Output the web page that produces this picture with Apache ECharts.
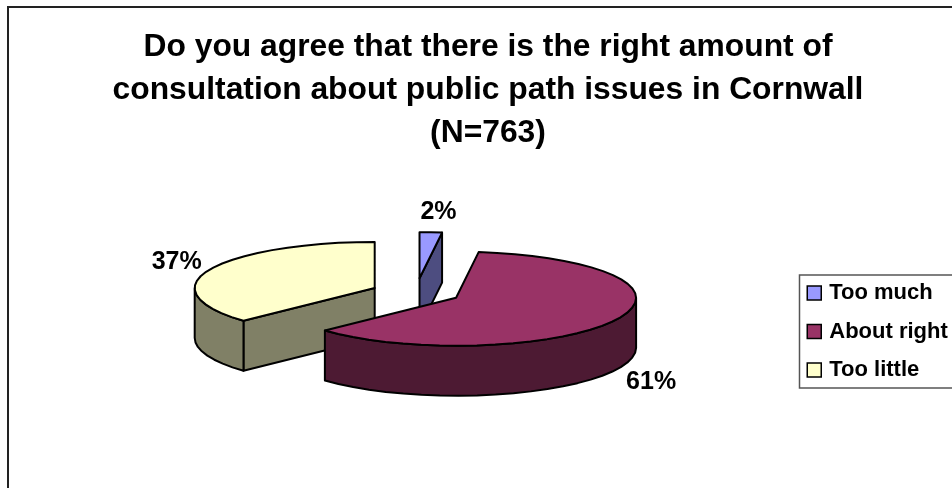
<!DOCTYPE html>
<html>
<head>
<meta charset="utf-8">
<script src="https://cdn.jsdelivr.net/npm/echarts@6/dist/echarts.min.js"></script>
<style>
  html, body { margin: 0; padding: 0; background: #fff; }
  #chart { width: 952px; height: 488px; }
</style>
</head>
<body>
<div id="chart"></div>
<script>
// Survey answers, in percent of respondents
const categories = ['Too much', 'About right', 'Too little'];
const shares = [2, 61, 37];
const topColors = ['#9999FF', '#993366', '#FFFFCC'];
const sideColors = ['#4D4D80', '#4D1A33', '#808066'];
const titleLines = [
  'Do you agree that there is the right amount of',
  'consultation about public path issues in Cornwall',
  '(N=763)'
];

// Geometry of the tilted, exploded pie
const FONT = '"Liberation Sans", Arial, sans-serif';
const pie = { cx: 416, cy: 292.5, rx: 180, ryBack: 46, ryFront: 48, depth: 50 };
const explode = [56, 45, 45];
const labelOffset = [[19, -66], [195, 84], [-198, -26]];
const drawOrder = [0, 2, 1];

const total = shares.reduce((a, b) => a + b, 0);

// Start and end angle of a slice, clockwise from twelve o'clock
function sliceAngles(i) {
  const before = shares.slice(0, i).reduce((a, b) => a + b, 0);
  return [before / total * Math.PI * 2, (before + shares[i]) / total * Math.PI * 2];
}

function sliceCentre(i) {
  const [a0, a1] = sliceAngles(i);
  const mid = (a0 + a1) / 2;
  return [
    pie.cx + explode[i] * Math.sin(mid),
    pie.cy - explode[i] * Math.cos(mid) * pie.ryBack / pie.rx
  ];
}

function rimPoint(c, a) {
  const cos = Math.cos(a);
  return [c[0] + pie.rx * Math.sin(a), c[1] - cos * (cos > 0 ? pie.ryBack : pie.ryFront)];
}

function arcPoints(c, a0, a1) {
  const n = Math.max(2, Math.ceil((a1 - a0) / (Math.PI / 30)));
  const pts = [];
  for (let k = 0; k <= n; k++) pts.push(rimPoint(c, a0 + (a1 - a0) * k / n));
  return pts;
}

const down = (p) => [p[0], p[1] + pie.depth];

function shape(points, fill) {
  return {
    type: 'polygon',
    shape: { points },
    style: { fill, stroke: '#000', lineWidth: 2, lineJoin: 'round' }
  };
}

// One slice: cut faces, outer wall (front half only), then the top
function renderSlice(i) {
  return function () {
    const c = sliceCentre(i);
    const [a0, a1] = sliceAngles(i);
    const children = [];
    const p0 = rimPoint(c, a0);
    const p1 = rimPoint(c, a1);

    // Cut faces turned towards the viewer
    if (a0 > Math.PI && a0 < Math.PI * 2) {
      children.push(shape([c, p0, down(p0), down(c)], sideColors[i]));
    }
    if (a1 > 0 && a1 < Math.PI) {
      children.push(shape([c, p1, down(p1), down(c)], sideColors[i]));
    }

    // Outer wall between 90 and 270 degrees
    const w0 = Math.max(a0, Math.PI / 2);
    const w1 = Math.min(a1, Math.PI * 3 / 2);
    if (w1 > w0) {
      const wall = arcPoints(c, w0, w1);
      children.push(shape(wall.concat(wall.slice().reverse().map(down)), sideColors[i]));
    }

    children.push(shape([c].concat(arcPoints(c, a0, a1)), topColors[i]));

    children.push({
      type: 'text',
      style: {
        x: c[0] + labelOffset[i][0],
        y: c[1] + labelOffset[i][1],
        text: shares[i] + '%',
        fill: '#000',
        font: 'bold 25px ' + FONT,
        align: 'center',
        verticalAlign: 'middle'
      }
    });
    return { type: 'group', children };
  };
}

const chart = echarts.init(document.getElementById('chart'), null, { renderer: 'canvas' });
chart.setOption({
  animation: false,
  backgroundColor: '#fff',
  title: {
    text: titleLines.join('\n'),
    left: 483,
    top: 21,
    textAlign: 'center',
    textStyle: { fontFamily: FONT, fontWeight: 'bold', fontSize: 31.8, lineHeight: 43, color: '#000' }
  },
  legend: {
    data: categories,
    orient: 'vertical',
    left: 799.5,
    top: 275,
    padding: [7, 20, 7, 7],
    itemGap: 16.5,
    itemWidth: 14,
    itemHeight: 14,
    icon: 'rect',
    selectedMode: false,
    borderColor: '#555',
    borderWidth: 1.5,
    backgroundColor: '#fff',
    itemStyle: { borderColor: '#000', borderWidth: 1.5 },
    textStyle: { fontFamily: FONT, fontWeight: 'bold', fontSize: 22, color: '#000', padding: [0, 0, 0, 3] }
  },
  graphic: [{
    type: 'rect',
    silent: true,
    z: -10,
    shape: { x: 8, y: 7, width: 1000, height: 600 },
    style: { fill: 'none', stroke: '#222', lineWidth: 2 }
  }],
  series: drawOrder.map((i) => ({
    type: 'custom',
    name: categories[i],
    coordinateSystem: 'none',
    silent: true,
    itemStyle: { color: topColors[i] },
    data: [shares[i]],
    renderItem: renderSlice(i)
  }))
});
</script>
</body>
</html>
